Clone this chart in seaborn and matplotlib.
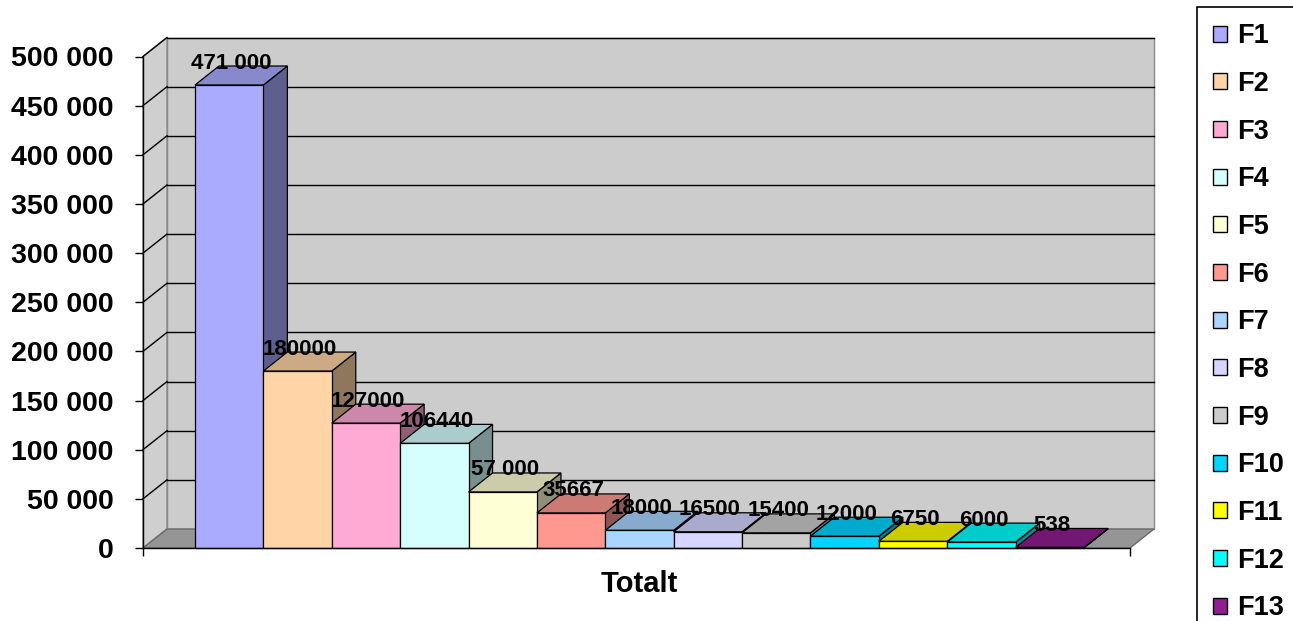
import numpy as np
import pandas as pd
import matplotlib
matplotlib.use("Agg")
import matplotlib.pyplot as plt
import seaborn as sns
from matplotlib.patches import Polygon, Patch, Rectangle
from matplotlib.lines import Line2D

# ---------------- data ----------------
category = ["Totalt"]
series = ["F1", "F2", "F3", "F4", "F5", "F6", "F7", "F8", "F9", "F10", "F11", "F12", "F13"]
values = [471000, 180000, 127000, 106440, 57000, 35667, 18000, 16500, 15400, 12000, 6750, 6000, 538]
value_labels = ["471 000", "180000", "127000", "106440", "57 000", "35667", "18000",
                "16500", "15400", "12000", "6750", "6000", "538"]
colors = ["#AAAAFF", "#FFD5A8", "#FFAAD5", "#D5FFFF", "#FFFFD5", "#FF9990", "#AAD5FF",
          "#D5D5FF", "#CCCCCC", "#00D5FF", "#FFFF00", "#00FFFF", "#911D91"]
yticks = [0, 50000, 100000, 150000, 200000, 250000, 300000, 350000, 400000, 450000, 500000]
ytick_labels = ["0", "50 000", "100 000", "150 000", "200 000", "250 000", "300 000",
                "350 000", "400 000", "450 000", "500 000"]

df = pd.DataFrame({"category": category * len(series), "series": series, "value": values})

# ---------------- style ----------------
plt.rcParams["font.family"] = ["Liberation Sans", "DejaVu Sans"]
plt.rcParams["font.weight"] = "bold"

W, H, DPI = 1293, 621, 100
fig = plt.figure(figsize=(W / DPI, H / DPI), dpi=DPI)

# front plane of the plot area (pixels)
AX_L, AX_R, AX_B, AX_T = 143, 1130, 548, 56.5
ax = fig.add_axes([AX_L / W, (H - AX_B) / H, (AX_R - AX_L) / W, (AX_B - AX_T) / H])
ax.patch.set_visible(False)

sns.barplot(data=df, x="category", y="value", hue="series", palette=colors,
            hue_order=series, width=0.8, saturation=1, edgecolor="black",
            linewidth=0.9, legend=False, ax=ax)
bars = sorted([p for p in ax.patches if isinstance(p, Rectangle)], key=lambda p: p.get_x())

# x limits so that bars span 195..1084 px
px_per_unit = 889 / 0.8
x0 = -(639.5 - AX_L) / px_per_unit
x1 = x0 + (AX_R - AX_L) / px_per_unit
ax.set_xlim(x0, x1)
ax.set_ylim(yticks[0], yticks[-1])

# depth offset (pixels -> data)
DX, DY = 24, 19
inv = ax.transData.inverted()
o = inv.transform((0, 0))
dxd, dyd = inv.transform((DX, DY)) - o
px_x, px_y = inv.transform((1, 1)) - o
ytop = yticks[-1]


def shade(c, f):
    r, g, b = matplotlib.colors.to_rgb(c)
    return (r * f, g * f, b * f)


# walls and floor
wall_kw = dict(clip_on=False, linewidth=1)
ax.add_patch(Polygon([(x0 + dxd, dyd), (x1 + dxd, dyd), (x1 + dxd, ytop + dyd), (x0 + dxd, ytop + dyd)],
                     facecolor="#CCCCCC", edgecolor="#888888", zorder=0.2, **wall_kw))
ax.add_patch(Polygon([(x0, 0), (x0, ytop), (x0 + dxd, ytop + dyd), (x0 + dxd, dyd)],
                     facecolor="#CFCFCF", edgecolor="#888888", zorder=0.3, **wall_kw))
ax.add_patch(Polygon([(x0, 0), (x1, 0), (x1 + dxd, dyd), (x0 + dxd, dyd)],
                     facecolor="#959595", edgecolor="#6A6A6A", zorder=0.4, **wall_kw))

# gridlines on back wall and side wall
for v in yticks[1:]:
    ax.add_line(Line2D([x0 + dxd, x1 + dxd], [v + dyd, v + dyd], color="black", lw=1,
                       zorder=0.6, clip_on=False))
    ax.add_line(Line2D([x0, x0 + dxd], [v, v + dyd], color="black", lw=1,
                       zorder=0.6, clip_on=False))

# 3D bar faces
for i, (bar, c) in enumerate(zip(bars, colors)):
    bx0, bw, h = bar.get_x(), bar.get_width(), bar.get_height()
    bx1 = bx0 + bw
    base = 10 + 3 * i
    ax.add_patch(Polygon([(bx1, 0), (bx1 + dxd, dyd), (bx1 + dxd, h + dyd), (bx1, h)],
                         facecolor=shade(c, 0.56), edgecolor="black", lw=0.9,
                         zorder=base, clip_on=False))
    ax.add_patch(Polygon([(bx0, h), (bx1, h), (bx1 + dxd, h + dyd), (bx0 + dxd, h + dyd)],
                         facecolor=shade(c, 0.8), edgecolor="black", lw=0.9,
                         zorder=base + 1, clip_on=False))
    bar.set_zorder(base + 2)
    bar.set_clip_on(False)
    ax.text(bx0 + bw / 2 + 2 * px_x, h + dyd + 3 * px_y, value_labels[i],
            ha="center", va="center", fontsize=16, fontweight="bold", zorder=200)

# axes styling
for s in ["top", "right"]:
    ax.spines[s].set_visible(False)
for s in ["left", "bottom"]:
    ax.spines[s].set_color("black")
    ax.spines[s].set_linewidth(1)
    ax.spines[s].set_zorder(100)
ax.set_yticks(yticks, ytick_labels)
ax.tick_params(axis="y", length=6, width=1, pad=15, labelsize=20.5, color="black")
ax.set_xticks([0], category)
ax.set_xticks([x0, x1], minor=True)
ax.tick_params(axis="x", which="major", length=0, pad=16, labelsize=21)
ax.tick_params(axis="x", which="minor", length=6, width=1)
for t in ax.get_yticklabels() + ax.get_xticklabels():
    t.set_fontweight("bold")
ax.set_xlabel("")
ax.set_ylabel("")

# legend
handles = [Patch(facecolor=c, edgecolor="black", linewidth=1) for c in colors]
leg = fig.legend(handles, series, loc="upper left", bbox_to_anchor=(1197 / W, 1 - 7 / H),
                 frameon=True, fancybox=False, edgecolor="black", framealpha=1,
                 prop={"size": 19.5, "weight": "bold"}, labelspacing=0.8,
                 handlelength=0.52, handleheight=0.52, handletextpad=0.35,
                 borderpad=0.6, borderaxespad=0)
leg.get_frame().set_linewidth(1.2)

fig.savefig("out.png", dpi=DPI)
